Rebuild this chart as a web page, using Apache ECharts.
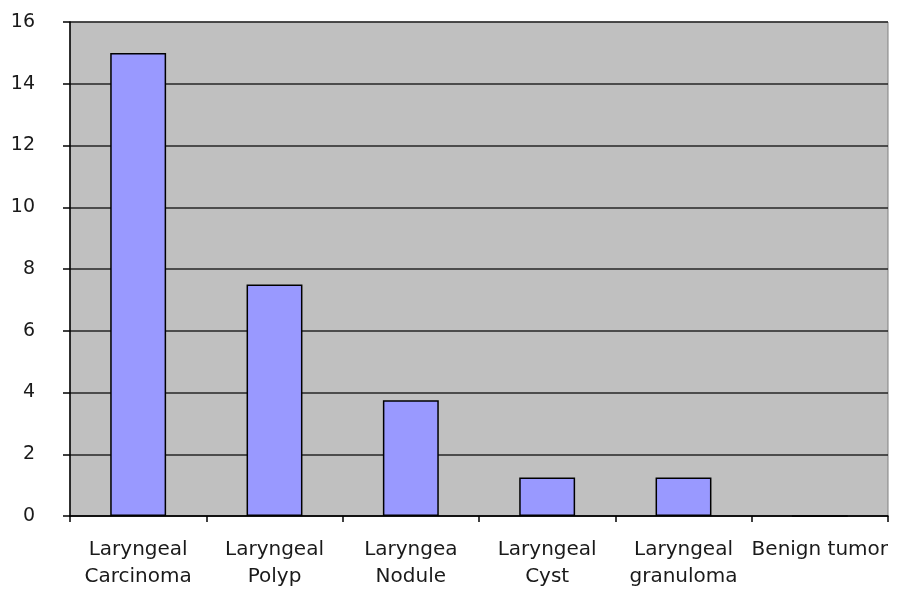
<!DOCTYPE html>
<html><head><meta charset="utf-8">
<script src="https://cdn.jsdelivr.net/npm/echarts@6/dist/echarts.min.js"></script>
<style>html,body{margin:0;padding:0;background:#fff}#c{width:900px;height:591px}</style>
</head><body><div id="c"></div>
<script>
var categories = ["Laryngeal\nCarcinoma", "Laryngeal\nPolyp", "Laryngea\nNodule", "Laryngeal\nCyst", "Laryngeal\ngranuloma", "Benign tumor"];
var values = [15, 7.5, 3.75, 1.25, 1.25, 0];
var yTicks = {min: 0, max: 16, interval: 2};

var chart = echarts.init(document.getElementById('c'));
chart.setOption({
  animation: false,
  grid: {left: 70, right: 12, top: 22, bottom: 75, show: true, backgroundColor: '#c0c0c0', borderColor: '#808080', borderWidth: 1},
  xAxis: {
    type: 'category', data: categories,
    axisLine: {lineStyle: {color: '#000', width: 1.5}},
    axisTick: {show: true, length: 6, lineStyle: {color: '#000', width: 1.5}},
    axisLabel: {color: '#1a1a1a', fontFamily: 'DejaVu Sans, sans-serif', fontSize: 20, lineHeight: 27, margin: 20, interval: 0}
  },
  yAxis: {
    type: 'value', min: yTicks.min, max: yTicks.max, interval: yTicks.interval,
    axisLine: {show: true, lineStyle: {color: '#000', width: 1.5}},
    axisTick: {show: true, length: 7, lineStyle: {color: '#000', width: 1.5}},
    axisLabel: {color: '#1a1a1a', fontFamily: 'DejaVu Sans, sans-serif', fontSize: 19, margin: 35},
    splitLine: {show: true, lineStyle: {color: '#262626', width: 1.5}}
  },
  series: [{
    type: 'bar', data: values, barWidth: '41%',
    itemStyle: {color: '#9999ff', borderColor: '#000', borderWidth: 1.5}
  }]
});
</script></body></html>
